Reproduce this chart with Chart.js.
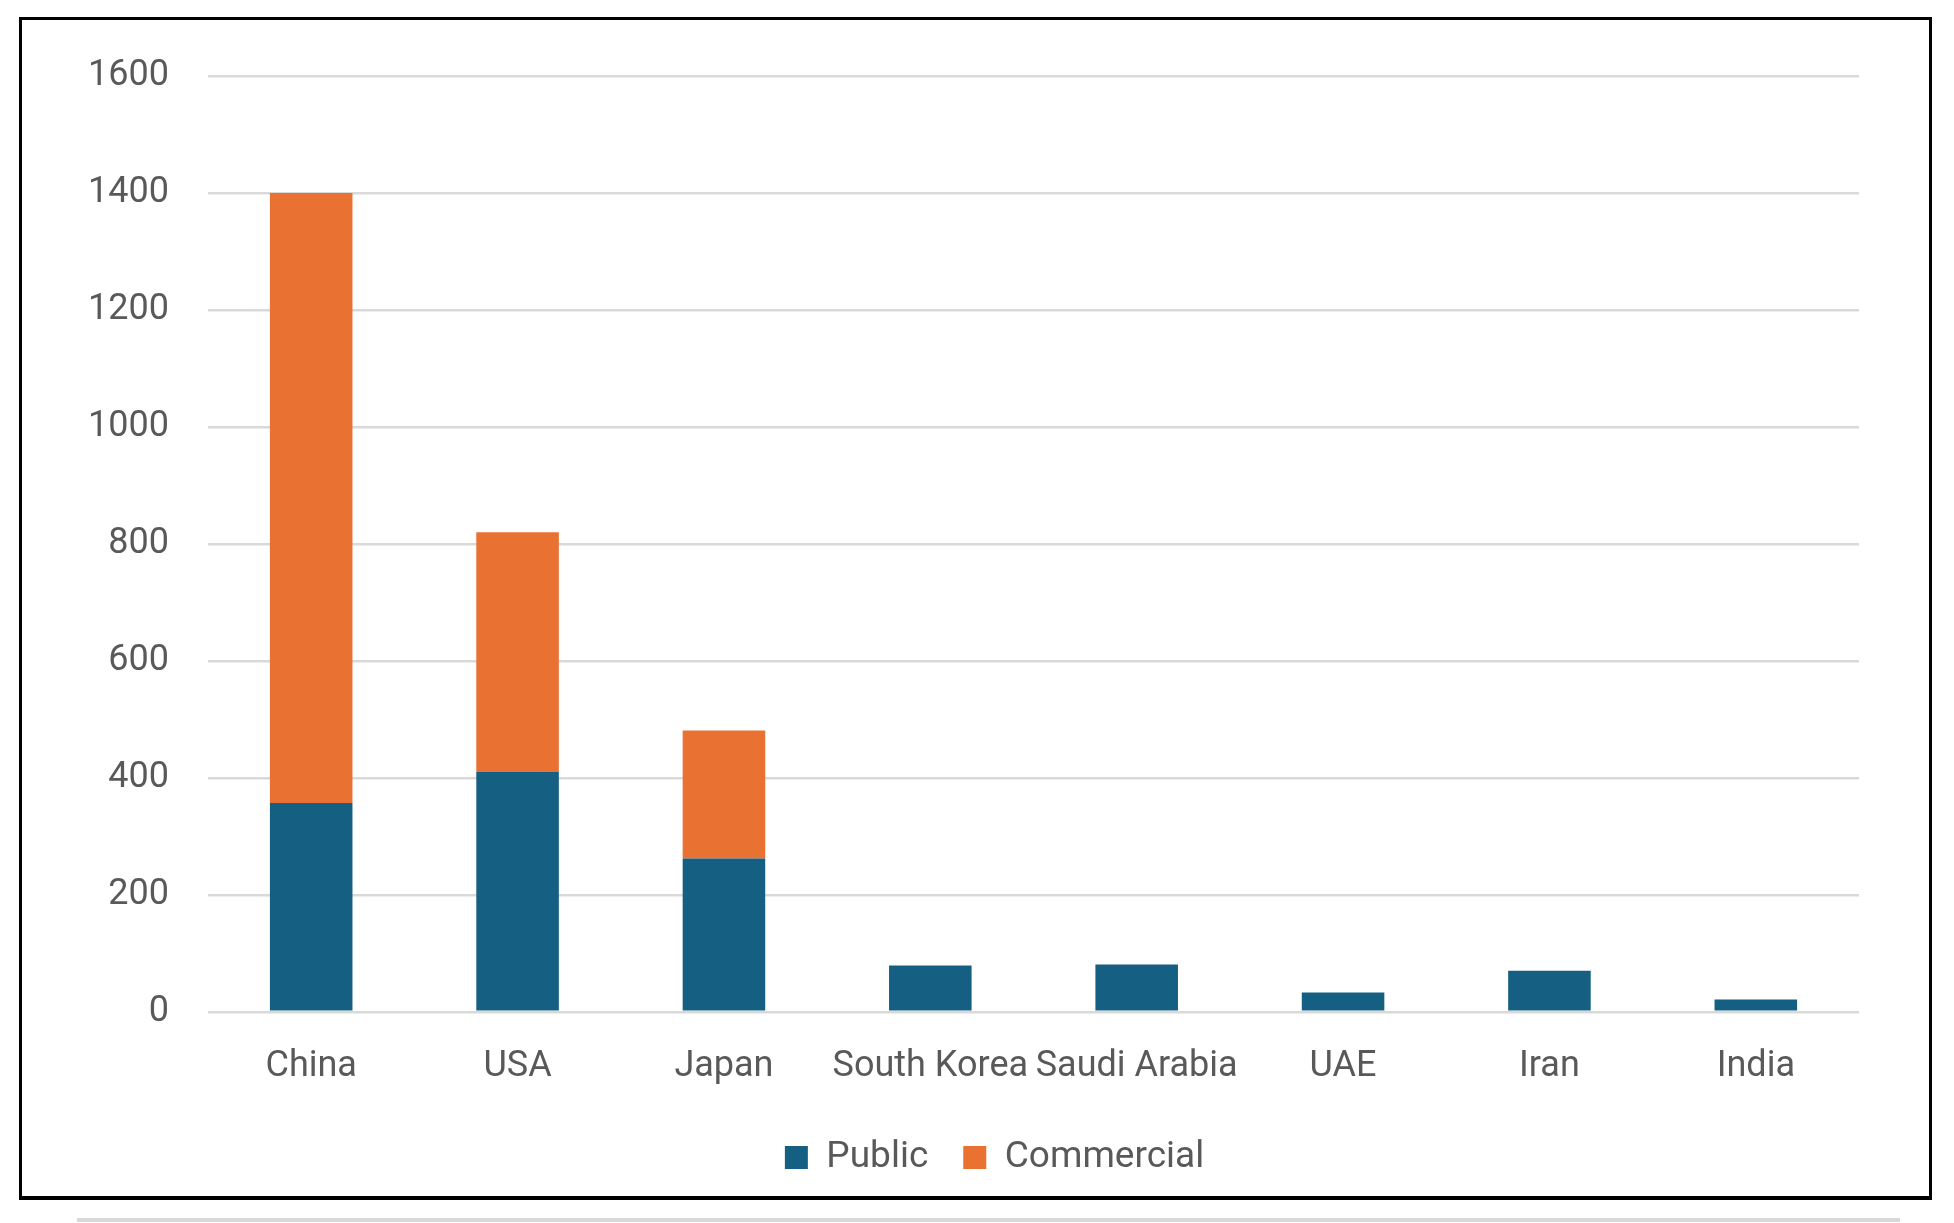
<!DOCTYPE html>
<html>
<head>
<meta charset="utf-8">
<title>Public vs Commercial</title>
<script src="https://cdn.jsdelivr.net/npm/chart.js@4"></script>
<style>
  html, body { margin: 0; padding: 0; background: #fff; }
  body { width: 1954px; height: 1223px; position: relative; overflow: hidden; }
  #frame {
    position: absolute; left: 19px; top: 17px; width: 1913px; height: 1183px;
    box-sizing: border-box; border: 3px solid #000; border-bottom-width: 4px;
  }
  #under {
    position: absolute; left: 77px; top: 1218px; width: 1823px; height: 4px; background: #d9d9d9;
  }
  #chart { position: absolute; left: 0; top: 0; }
</style>
</head>
<body>
<div id="frame"></div>
<div id="under"></div>
<canvas id="chart" width="1954" height="1223"></canvas>
<script>
// values
const categories = ['China', 'USA', 'Japan', 'South Korea', 'Saudi Arabia', 'UAE', 'Iran', 'India'];
const publicValues = [357, 410, 262, 79, 81, 33, 70, 21];
const commercialValues = [1043, 410, 219, null, null, null, null, null];
const yTicks = [0, 200, 400, 600, 800, 1000, 1200, 1400, 1600];

const textColor = '#595959';
const fontFamily = 'Roboto, "Liberation Sans", sans-serif';

// the legend in the reference sits a bit right of the canvas centre
const legendShift = {
    id: 'legendShift',
    afterLayout(chart) {
        const lg = chart.legend;
        lg.left += 65; lg.right += 65;
        lg.top -= 11; lg.bottom -= 11;
    }
};

const ctx = document.getElementById('chart').getContext('2d');
const chart = new Chart(ctx, {
    type: 'bar',
    data: {
        labels: categories,
        datasets: [{
            label: 'Public',
            data: publicValues,
            backgroundColor: '#156082',
            barPercentage: 0.4,
            categoryPercentage: 1.0
        }, {
            label: 'Commercial',
            data: commercialValues,
            backgroundColor: '#E97132',
            barPercentage: 0.4,
            categoryPercentage: 1.0
        }]
    },
    options: {
        responsive: false,
        animation: false,
        layout: {
            padding: { left: 0, right: 95, top: 76, bottom: 26 }
        },
        scales: {
            x: {
                stacked: true,
                grid: { display: false },
                border: { display: false },
                ticks: {
                    color: textColor,
                    padding: 26,
                    maxRotation: 0,
                    minRotation: 0,
                    autoSkip: false,
                    font: { family: fontFamily, size: 36 }
                }
            },
            y: {
                stacked: true,
                min: 0,
                max: 1600,
                afterFit: (axis) => { axis.width = 208; },
                afterBuildTicks: (axis) => { axis.ticks = yTicks.map(v => ({ value: v })); },
                grid: { color: '#D9D9D9', lineWidth: 2.5, drawTicks: false },
                border: { display: false },
                ticks: {
                    color: textColor,
                    padding: 39,
                    callback: (v) => String(v),
                    font: { family: fontFamily, size: 36 }
                }
            }
        },
        plugins: {
            tooltip: { enabled: false },
            legend: {
                position: 'bottom',
                labels: {
                    color: textColor,
                    boxWidth: 23,
                    boxHeight: 23,
                    padding: 35,
                    font: { family: fontFamily, size: 37 }
                }
            }
        }
    },
    plugins: [legendShift]
});
</script>
</body>
</html>
